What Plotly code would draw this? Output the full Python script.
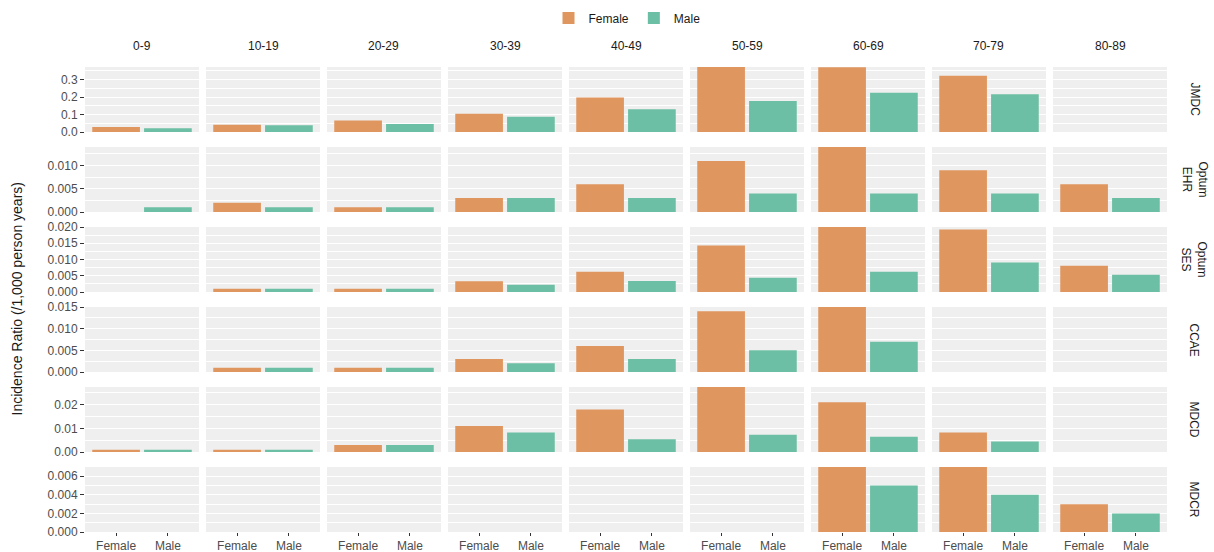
import plotly.graph_objects as go

# Faceted incidence ratios: rows = database, columns = age group, bars = sex
age_groups = ["0-9", "10-19", "20-29", "30-39", "40-49", "50-59", "60-69", "70-79", "80-89"]
sexes = ["Female", "Male"]
databases = ["JMDC", "Optum EHR", "Optum SES", "CCAE", "MDCD", "MDCR"]
strip_labels = ["JMDC", "Optum<br>EHR", "Optum<br>SES", "CCAE", "MDCD", "MDCR"]

jmdc_female = [0.028, 0.042, 0.066, 0.105, 0.197, 0.372, 0.370, 0.322, None]
jmdc_male = [0.022, 0.039, 0.046, 0.087, 0.130, 0.177, 0.225, 0.216, None]
ehr_female = [None, 0.002, 0.001, 0.003, 0.006, 0.011, 0.014, 0.009, 0.006]
ehr_male = [0.001, 0.001, 0.001, 0.003, 0.003, 0.004, 0.004, 0.004, 0.003]
ses_female = [None, 0.001, 0.001, 0.0033, 0.0062, 0.0143, 0.020, 0.0192, 0.0081]
ses_male = [None, 0.001, 0.001, 0.0022, 0.0034, 0.0044, 0.0062, 0.0091, 0.0053]
ccae_female = [None, 0.001, 0.001, 0.003, 0.006, 0.014, 0.015, None, None]
ccae_male = [None, 0.001, 0.001, 0.002, 0.003, 0.005, 0.007, None, None]
mdcd_female = [0.001, 0.001, 0.003, 0.011, 0.018, 0.0275, 0.021, 0.0083, None]
mdcd_male = [0.001, 0.001, 0.003, 0.0083, 0.0054, 0.0073, 0.0064, 0.0044, None]
mdcr_female = [None, None, None, None, None, None, 0.007, 0.007, 0.003]
mdcr_male = [None, None, None, None, None, None, 0.005, 0.004, 0.002]

female_rows = [jmdc_female, ehr_female, ses_female, ccae_female, mdcd_female, mdcr_female]
male_rows = [jmdc_male, ehr_male, ses_male, ccae_male, mdcd_male, mdcr_male]

# y tick values and labels per row
row_ticks = [
    ([0.0, 0.1, 0.2, 0.3], ["0.0", "0.1", "0.2", "0.3"]),
    ([0.0, 0.005, 0.010], ["0.000", "0.005", "0.010"]),
    ([0.0, 0.005, 0.010, 0.015, 0.020], ["0.000", "0.005", "0.010", "0.015", "0.020"]),
    ([0.0, 0.005, 0.010, 0.015], ["0.000", "0.005", "0.010", "0.015"]),
    ([0.0, 0.01, 0.02], ["0.00", "0.01", "0.02"]),
    ([0.0, 0.002, 0.004, 0.006], ["0.000", "0.002", "0.004", "0.006"]),
]
row_minor = [0.05, 0.0025, 0.0025, 0.0025, 0.005, 0.001]

COLORS = {"Female": "#E0965F", "Male": "#6CBFA4"}
FONT = "Liberation Sans, Arial, Helvetica, sans-serif"

W, H = 1214, 552
PANEL_LEFT, PANEL_W, PANEL_PITCH = 85, 114, 121
PANEL_TOP, PANEL_H, ROW_PITCH = 67, 65, 80

fig = go.Figure()
layout = {}
n_rows, n_cols = len(databases), len(age_groups)

for r in range(n_rows):
    top = max(v for v in female_rows[r] + male_rows[r] if v is not None)
    y0 = (H - (PANEL_TOP + r * ROW_PITCH + PANEL_H)) / H
    y1 = (H - (PANEL_TOP + r * ROW_PITCH)) / H
    for c in range(n_cols):
        idx = r * n_cols + c + 1
        sfx = "" if idx == 1 else str(idx)
        x0 = (PANEL_LEFT + c * PANEL_PITCH) / W
        x1 = (PANEL_LEFT + c * PANEL_PITCH + PANEL_W) / W
        for sex, rows in (("Female", female_rows), ("Male", male_rows)):
            val = rows[r][c]
            fig.add_trace(go.Bar(
                x=[sex], y=[val], name=sex, width=0.92,
                marker=dict(color=COLORS[sex], line=dict(width=0)),
                showlegend=(r == 0 and c == 0), legendgroup=sex,
                xaxis="x" + sfx, yaxis="y" + sfx,
                hovertemplate=f"{databases[r]} {age_groups[c]} {sex}: %{{y}}<extra></extra>",
            ))
        bottom = r == n_rows - 1
        layout["xaxis" + sfx] = dict(
            domain=[x0, x1], anchor="y" + sfx, type="category",
            categoryorder="array", categoryarray=sexes, range=[-0.6, 1.6],
            showgrid=False, zeroline=False, showline=False,
            showticklabels=bottom, ticks="outside" if bottom else "",
            ticklen=3, tickwidth=1, tickcolor="#333333",
            tickfont=dict(family=FONT, size=12, color="#4D4D4D"),
            automargin=False,
        )
        tv, tt = row_ticks[r]
        layout["yaxis" + sfx] = dict(
            domain=[y0, y1], anchor="x" + sfx, range=[0, top],
            tickvals=tv, ticktext=tt, showticklabels=(c == 0),
            ticks="outside" if c == 0 else "", ticklen=4, tickwidth=1,
            tickcolor="#333333",
            tickfont=dict(family=FONT, size=12, color="#4D4D4D"),
            showgrid=True, gridcolor="white", gridwidth=1.2,
            minor=dict(dtick=row_minor[r], tick0=0, showgrid=True,
                       gridcolor="white", gridwidth=0.6),
            zeroline=False, showline=False, fixedrange=True,
            automargin=False,
        )

annotations = []
# column strips
for c, g in enumerate(age_groups):
    xc = (PANEL_LEFT + c * PANEL_PITCH + PANEL_W / 2) / W
    annotations.append(dict(
        text=g, x=xc, y=(H - 46) / H, xref="paper", yref="paper",
        showarrow=False, font=dict(family=FONT, size=12, color="#1A1A1A"),
        xanchor="center", yanchor="middle",
    ))
# row strips
for r, lab in enumerate(strip_labels):
    yc = (H - (PANEL_TOP + r * ROW_PITCH + PANEL_H / 2)) / H
    annotations.append(dict(
        text=lab, x=1194 / W, y=yc, xref="paper", yref="paper",
        showarrow=False, textangle=90,
        font=dict(family=FONT, size=12, color="#1A1A1A"),
        xanchor="center", yanchor="middle",
    ))
# shared y title
annotations.append(dict(
    text="Incidence Ratio (/1,000 person years)", x=16 / W,
    y=(H - (PANEL_TOP + (n_rows * ROW_PITCH - (ROW_PITCH - PANEL_H)) / 2)) / H,
    xref="paper", yref="paper", showarrow=False, textangle=-90,
    font=dict(family=FONT, size=14, color="#1A1A1A"),
    xanchor="center", yanchor="middle",
))

fig.update_layout(
    **layout,
    width=W, height=H,
    margin=dict(l=0, r=0, t=0, b=0, autoexpand=False),
    paper_bgcolor="white", plot_bgcolor="#EFEFEF",
    barmode="overlay",
    annotations=annotations,
    showlegend=True,
    legend=dict(
        orientation="h", x=627 / W, y=(H - 18) / H, xanchor="center",
        yanchor="middle", font=dict(family=FONT, size=12, color="#1A1A1A"),
        itemsizing="constant", traceorder="normal",
    ),
    font=dict(family=FONT),
)

fig.write_html("out.html")
